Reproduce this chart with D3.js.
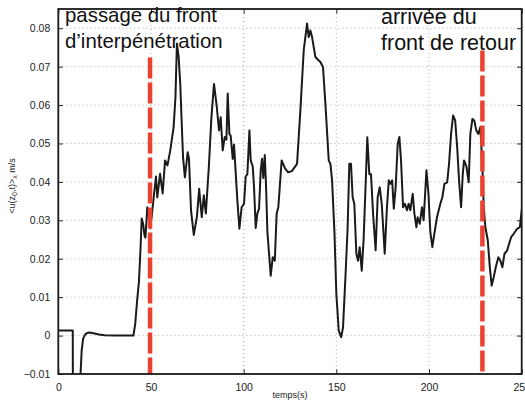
<!DOCTYPE html>
<html><head><meta charset="utf-8">
<script src="https://cdn.jsdelivr.net/npm/d3@7"></script>
<style>body{margin:0;background:#fff}svg{display:block}</style>
</head><body>
<svg id="c" width="525" height="401"></svg>
<script>
const times = [0,7.8,7.9,11.6,11.8,12.6,13.4,14.5,15.7,16.8,19,22,25,30,35,40.5,41.5,42.5,43.5,44.3,45,45.8,46.5,47,47.6,48,48.8,49.5,50.4,51.3,52.7,53.4,54.9,56.3,57.6,58.9,60.4,62.2,63.2,64,64.9,65.8,66.6,67.3,68.3,69.8,70.5,71.6,73.1,74.8,76,77.4,78.5,79.6,81.2,82.6,84,85.5,86.7,87.6,88.7,89.8,90.7,91.4,92.3,93,94.1,94.8,96.6,97.7,98.9,100.2,101.1,102,103.1,103.8,104.9,105.6,106.5,107.4,108.3,109.2,109.9,110.6,111.4,112.1,112.8,113.7,114.6,115.7,116.8,117.8,118.7,120.5,122.3,124,126,128.8,130.6,132.4,134.2,135.1,136,136.9,138.7,140.5,141.4,142.8,144.1,145.9,146.8,147.7,149,150,151.3,152.6,153.6,154.9,156.1,157,157.9,158.8,159.7,160.8,161.7,162.6,163.7,164.7,166,166.7,167.8,168.7,169.8,171.2,172.3,173.4,174.5,176.1,177.3,178.3,179.2,180.1,181,182,183.1,184,184.9,186,187,188.1,189,189.9,191.2,192.1,193.2,193.9,195,196.2,197.1,198.6,199.7,200.7,201.8,202.9,204.3,206.1,207.2,208.3,209.8,210.8,211.9,213,214.1,215.2,216.2,217.3,218.2,218.9,220.2,221.4,222.3,223.4,224.4,225.5,226.6,227.7,228.8,229.5,230.4,231.7,232.8,233.8,234.9,236,237.4,238.5,239.6,240.7,242.1,243.2,244.3,245.7,247.5,249,250.2];
const velocity = [0.0013,0.0013,-0.02,-0.02,-0.012,-0.004,-0.0008,0.0003,0.0007,0.0008,0.0006,0.0003,0.0001,0,0,0,0.003,0.009,0.014,0.022,0.0305,0.029,0.026,0.0255,0.03,0.0334,0.031,0.028,0.031,0.0352,0.0414,0.036,0.0421,0.037,0.0456,0.0443,0.0482,0.0542,0.062,0.076,0.0727,0.0655,0.055,0.0464,0.0412,0.0477,0.046,0.0326,0.0262,0.031,0.0382,0.0308,0.0365,0.0318,0.0438,0.0568,0.0655,0.0595,0.0534,0.0568,0.0482,0.0517,0.051,0.063,0.0525,0.052,0.046,0.0497,0.0352,0.0278,0.0334,0.0343,0.0414,0.042,0.0534,0.0456,0.044,0.0386,0.028,0.0318,0.033,0.043,0.046,0.041,0.047,0.0386,0.027,0.0213,0.0156,0.0204,0.0195,0.0318,0.0334,0.0456,0.0435,0.0425,0.0428,0.0447,0.0586,0.0742,0.0812,0.0777,0.0794,0.0777,0.0725,0.0716,0.0712,0.0699,0.0603,0.0456,0.0447,0.0404,0.0266,0.0109,0.0013,-0.0004,0.0021,0.0152,0.0282,0.0447,0.0447,0.036,0.0343,0.0213,0.0195,0.023,0.0169,0.0248,0.042,0.0516,0.042,0.042,0.0318,0.0222,0.036,0.0386,0.0343,0.0213,0.0334,0.0404,0.0395,0.0404,0.033,0.0386,0.0499,0.0517,0.0456,0.0334,0.0343,0.0326,0.0343,0.0326,0.0369,0.0318,0.0282,0.0308,0.0291,0.0334,0.03,0.043,0.0369,0.027,0.023,0.0266,0.0308,0.0343,0.036,0.0395,0.0399,0.0447,0.0525,0.0573,0.056,0.049,0.0404,0.0334,0.042,0.0456,0.044,0.0399,0.0525,0.0564,0.056,0.0534,0.0525,0.0543,0.044,0.0334,0.0282,0.0248,0.0178,0.013,0.0152,0.0178,0.0204,0.0195,0.0178,0.0213,0.0221,0.0239,0.0256,0.0265,0.0278,0.0282,0.0334];
const xTicks = [0,50,100,150,200,250];
const yTicks = [-0.01,0,0.01,0.02,0.03,0.04,0.05,0.06,0.07,0.08];
const yTickLabels = ["\u22120.01","0","0.01","0.02","0.03","0.04","0.05","0.06","0.07","0.08"];
const frontTimes = [49.5,228.8];
const frontTops = [0.0724,0.0742];

const L=58.3,R=521.7,T=9,B=374;
const svg=d3.select("#c");
const x=d3.scaleLinear().domain([0,250]).range([L,R]);
const y=d3.scaleLinear().domain([-0.01,0.085]).range([B,T]);
const font="'Liberation Sans', Arial, Helvetica, sans-serif";

svg.append("defs").append("clipPath").attr("id","clip").append("rect")
  .attr("x",L).attr("y",T).attr("width",R-L).attr("height",B-T);

// grid
const grid=svg.append("g").attr("stroke","#9a9a9a").attr("stroke-width",0.8).attr("stroke-dasharray","1,3");
grid.selectAll(".gx").data(xTicks.slice(1,-1)).join("line")
  .attr("x1",d=>x(d)).attr("x2",d=>x(d)).attr("y1",T).attr("y2",B);
grid.selectAll(".gy").data(yTicks.slice(1)).join("line")
  .attr("y1",d=>y(d)).attr("y2",d=>y(d)).attr("x1",L).attr("x2",R);

// axes with inner ticks
const tl=4.6;
const xb=svg.append("g").attr("transform",`translate(0,${B})`)
  .call(d3.axisBottom(x).tickValues(xTicks).tickSizeInner(-tl).tickSizeOuter(0).tickPadding(8).tickFormat(d3.format("d")));
const xt=svg.append("g").attr("transform",`translate(0,${T})`)
  .call(d3.axisTop(x).tickValues(xTicks).tickSizeInner(-tl).tickSizeOuter(0).tickFormat(""));
const yl=svg.append("g").attr("transform",`translate(${L},0)`)
  .call(d3.axisLeft(y).tickValues(yTicks).tickSizeInner(-tl).tickSizeOuter(0).tickPadding(8).tickFormat((d,i)=>yTickLabels[i]));
const yr=svg.append("g").attr("transform",`translate(${R},0)`)
  .call(d3.axisRight(y).tickValues(yTicks).tickSizeInner(-tl).tickSizeOuter(0).tickFormat(""));
[xb,xt,yl,yr].forEach(g=>{
  g.select(".domain").remove();
  g.selectAll(".tick line").attr("stroke","#222").attr("stroke-width",1);
  g.selectAll("text").attr("font-family",font).attr("font-size",10.5).attr("fill","#222");
});
xb.selectAll("text").attr("dy","0.85em");

// line
const line=d3.line().x((d,i)=>x(times[i])).y(d=>y(d));
svg.append("path").datum(velocity).attr("clip-path","url(#clip)")
  .attr("d",line).attr("fill","none").attr("stroke","#1a1a1a").attr("stroke-width",2).attr("stroke-linejoin","round");

// red front lines
svg.selectAll(".front").data(frontTimes).join("line")
  .attr("x1",d=>x(d)).attr("x2",d=>x(d)).attr("y1",(d,i)=>y(frontTops[i])).attr("y2",B)
  .attr("stroke","#ea4230").attr("stroke-width",4.5).attr("stroke-dasharray","21,4");

// box
svg.append("rect").attr("x",L).attr("y",T).attr("width",R-L).attr("height",B-T)
  .attr("fill","none").attr("stroke","#1a1a1a").attr("stroke-width",1.8);

// annotations
const ann=[{x:65,y:22,size:20.4,lines:["passage du front","d\u2019interp\u00e9n\u00e9tration"]},
           {x:381,y:24,size:21.5,lines:["arriv\u00e9e du","front de retour"]}];
ann.forEach(a=>{
  const t=svg.append("text").attr("font-family",font).attr("font-size",a.size).attr("fill","#111");
  a.lines.forEach((s,i)=>t.append("tspan").attr("x",a.x).attr("y",a.y+i*25.5).text(s));
});

// labels
svg.append("text").attr("x",(L+R)/2).attr("y",398).attr("text-anchor","middle")
  .attr("font-family",font).attr("font-size",9).attr("fill","#222").text("temps(s)");
const ylab=svg.append("text").attr("transform","translate(15,186) rotate(-90)").attr("text-anchor","middle")
  .attr("font-family",font).attr("font-size",9).attr("fill","#222");
ylab.append("tspan").text("<u(z");
ylab.append("tspan").attr("font-size",7).attr("dy",2).text("0");
ylab.append("tspan").attr("dy",-2).text(",t)>");
ylab.append("tspan").attr("font-size",7).attr("dy",2).text("x");
ylab.append("tspan").attr("dy",-2).text(" m/s");
</script>
</body></html>
